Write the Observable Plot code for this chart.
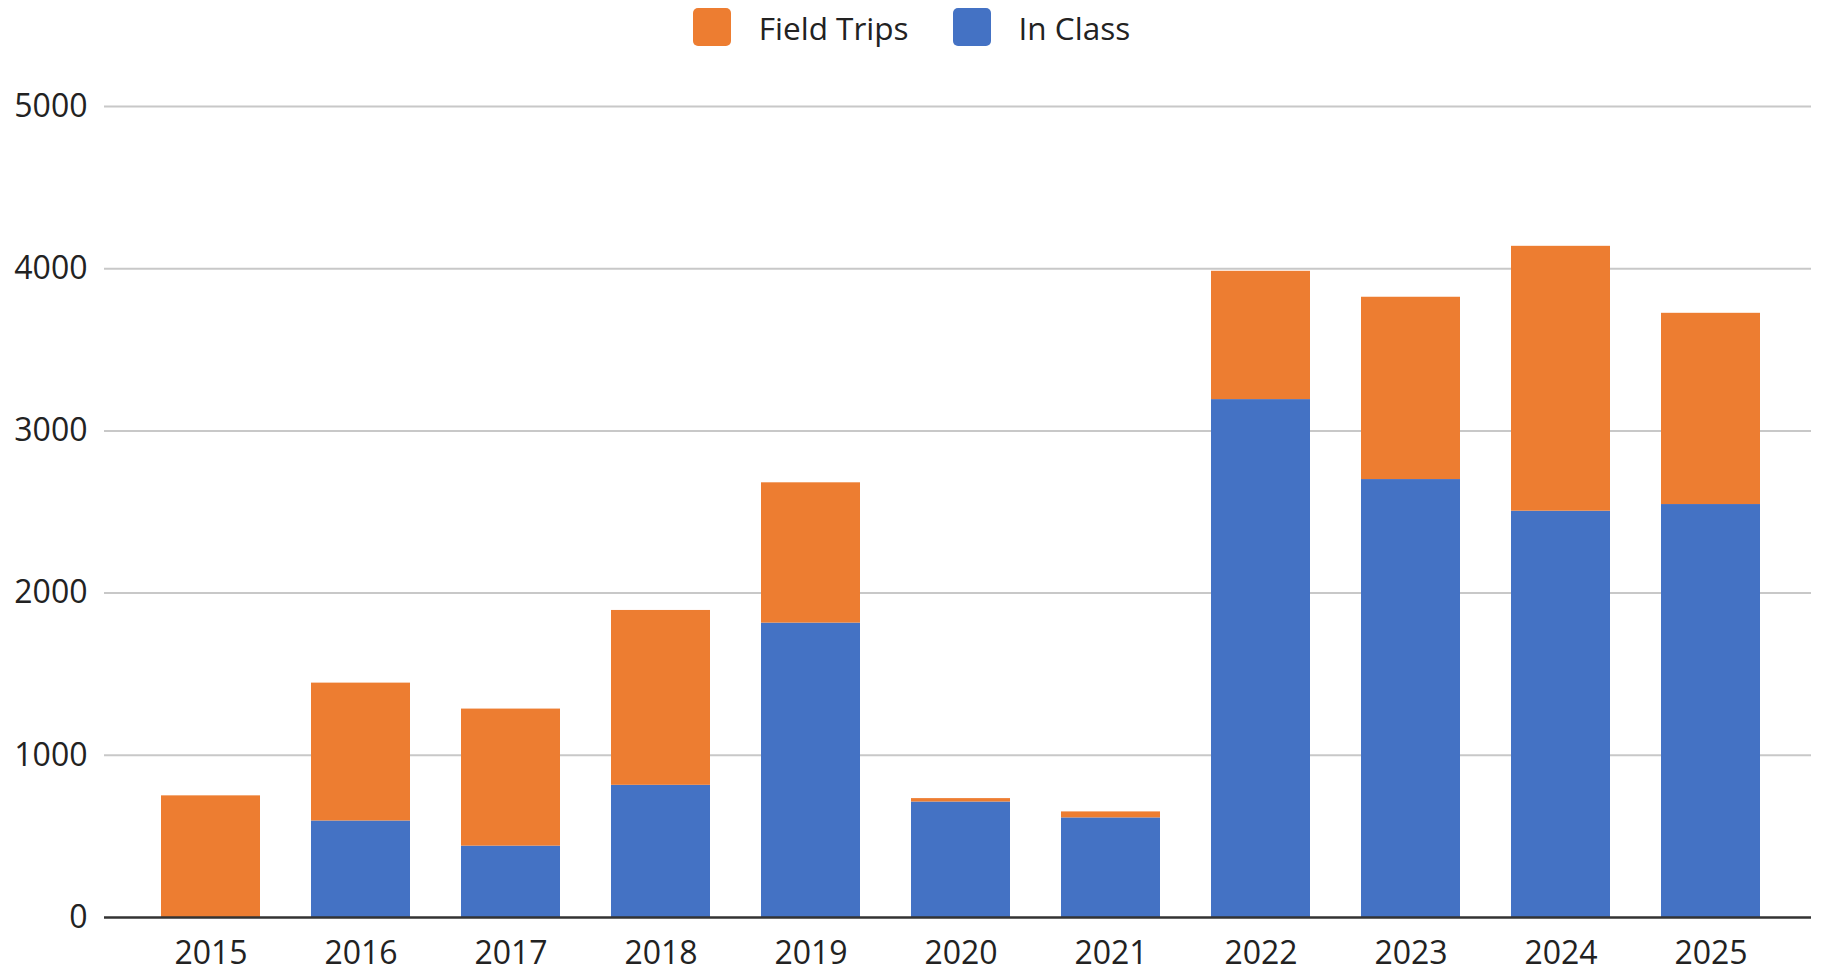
<!DOCTYPE html>
<html>
<head>
<meta charset="utf-8">
<script src="https://cdn.jsdelivr.net/npm/d3@7"></script>
<script src="https://cdn.jsdelivr.net/npm/@observablehq/plot@0.6"></script>
<style>
  html, body { margin: 0; padding: 0; background: #fff; }
  body { width: 1823px; height: 973px; overflow: hidden; font-family: "Open Sans", sans-serif; }
  #legend { height: 60px; padding-bottom: 6px; display: flex; justify-content: center; align-items: center; font-size: 31.5px; color: #222; box-sizing: border-box; }
  .item { display: flex; align-items: center; }
  .sw { width: 38px; height: 38px; border-radius: 5px; margin-right: 28px; }
  .item + .item { margin-left: 44px; }
  #chart svg { display: block; overflow: visible; }
</style>
</head>
<body>
<div id="legend"></div>
<div id="chart"></div>
<script>
const years = ["2015","2016","2017","2018","2019","2020","2021","2022","2023","2024","2025"];
const inClass = [0, 595, 440, 815, 1815, 712, 614, 3193, 2700, 2505, 2546];
const fieldTrips = [750, 850, 845, 1078, 865, 21, 37, 791, 1124, 1633, 1179];
const seriesNames = ["Field Trips", "In Class"];
const seriesColors = ["#ED7D31", "#4472C4"];
const yTicks = [0, 1000, 2000, 3000, 4000, 5000];

const rows = [];
years.forEach((y, i) => rows.push({year: y, series: "In Class", value: inClass[i]}));
years.forEach((y, i) => rows.push({year: y, series: "Field Trips", value: fieldTrips[i]}));

const legend = document.getElementById("legend");
seriesNames.forEach((s, i) => {
  const it = document.createElement("div");
  it.className = "item";
  const sw = document.createElement("div");
  sw.className = "sw";
  sw.style.background = seriesColors[i];
  const t = document.createElement("span");
  t.textContent = s;
  it.appendChild(sw); it.appendChild(t);
  legend.appendChild(it);
});

const chart = Plot.plot({
  width: 1823,
  height: 913,
  marginLeft: 104,
  marginRight: 12,
  marginTop: 46,
  marginBottom: 56,
  style: {fontFamily: "Open Sans, sans-serif", fontSize: "32px", color: "#222", background: "#fff", overflow: "visible"},
  x: {domain: years, paddingInner: 0.34, paddingOuter: 0.356, align: 0.53, label: null},
  y: {domain: [0, 5000], ticks: yTicks, label: null},
  color: {domain: seriesNames, range: seriesColors},
  marks: [
    Plot.ruleY(yTicks.filter(d => d > 0), {stroke: "#c8c8c8", strokeWidth: 2}),
    Plot.barY(rows, {x: "year", y: "value", fill: "series"}),
    Plot.ruleY([0], {stroke: "#333", strokeWidth: 2.5}),
    Plot.axisY({ticks: yTicks, tickSize: 0, tickPadding: 17, label: null, fontSize: 32, tickFormat: d => String(d)}),
    Plot.axisX({tickSize: 0, tickPadding: 24, label: null, fontSize: 32})
  ]
});
document.getElementById("chart").appendChild(chart);
</script>
</body>
</html>
